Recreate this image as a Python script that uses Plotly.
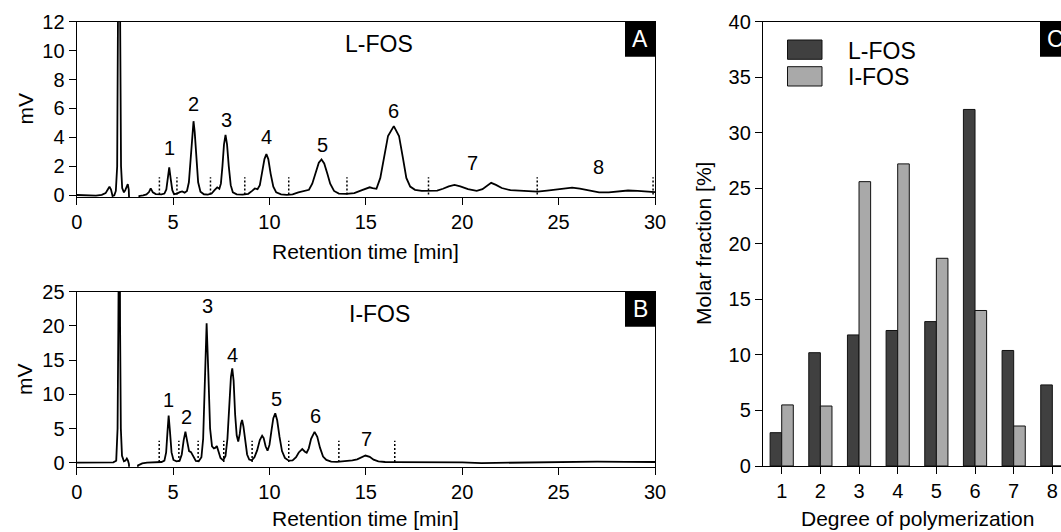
import plotly.graph_objects as go

W, H = 1061, 532
FONT = "Liberation Sans, Arial, sans-serif"

# ---------------- data ----------------
# Panel A: L-FOS chromatogram (retention time [min], signal [mV])
lfos_t = [0.0, 0.5, 1.0, 1.3, 1.5, 1.62, 1.7, 1.78, 1.86, 1.95, 2.03, 2.1, 2.14, 2.17, 2.23, 2.26, 2.3,
          2.36, 2.45, 2.52, 2.58, 2.65, 2.7, 2.74, 2.77, 3.2, 3.25, 3.45, 3.62, 3.75, 3.84, 3.95,
          4.1, 4.4, 4.55, 4.65, 4.72, 4.8, 4.88, 4.96, 5.05, 5.2, 5.35, 5.47, 5.6, 5.72,
          5.82, 5.92, 6.0, 6.06, 6.12, 6.2, 6.3, 6.42, 6.6, 6.8, 7.0, 7.15, 7.29, 7.4,
          7.48, 7.56, 7.64, 7.72, 7.8, 7.89, 7.99, 8.1, 8.3, 8.6, 8.9, 9.1, 9.24, 9.38,
          9.5, 9.62, 9.74, 9.84, 9.94, 10.06, 10.2, 10.35, 10.6, 10.9, 11.2, 11.5, 11.8,
          12.05, 12.22, 12.4, 12.56, 12.7, 12.84, 13.0, 13.15, 13.35, 13.6, 14.0, 14.4,
          14.8, 15.05, 15.2, 15.35, 15.55, 15.75, 15.95, 16.15, 16.45, 16.72, 16.92,
          17.1, 17.3, 17.55, 17.9, 18.3, 18.7, 19.0, 19.3, 19.6, 19.9, 20.3, 20.75, 21.05,
          21.3, 21.5, 21.75, 22.05, 22.5, 23.0, 23.5, 23.9, 24.4, 24.9, 25.3, 25.7, 26.1,
          26.6, 27.1, 27.6, 28.1, 28.6, 29.1, 29.6, 30.0]
lfos_mv = [0.02, 0.0, -0.02, 0.03, 0.15, 0.42, 0.6, 0.4, -0.05, 0.0, 0.3, 2.0, 12.0, 30.0, 30.0, 12.0, 2.0,
           0.5, 0.2, 0.35, 0.6, 0.77, 0.4, -0.3, -2.0, -2.0, -0.05, 0.0, 0.06, 0.22, 0.48, 0.2,
           0.08, 0.06, 0.12, 0.4, 1.1, 1.92, 1.1, 0.35, 0.08, 0.12, 0.22, 0.27, 0.18, 0.3,
           0.9, 2.6, 4.4, 5.12, 4.4, 2.6, 0.9, 0.25, 0.07, 0.05, 0.12, 0.35, 0.55, 0.45,
           0.8, 2.0, 3.5, 4.18, 3.5, 2.0, 0.7, 0.2, 0.06, 0.04, 0.1, 0.3, 0.47, 0.42,
           0.7, 1.6, 2.5, 2.84, 2.5, 1.5, 0.6, 0.2, 0.06, 0.03, 0.06, 0.2, 0.32,
           0.38, 0.8, 1.6, 2.25, 2.47, 2.2, 1.5, 0.8, 0.3, 0.12, 0.1, 0.15,
           0.35, 0.5, 0.55, 0.5, 0.45, 1.2, 2.6, 4.1, 4.78, 4.1, 2.6,
           1.2, 0.6, 0.38, 0.3, 0.3, 0.32, 0.45, 0.62, 0.72, 0.62, 0.42, 0.3, 0.42,
           0.7, 0.86, 0.72, 0.5, 0.35, 0.3, 0.28, 0.25, 0.32, 0.42, 0.5, 0.53, 0.46,
           0.32, 0.2, 0.2, 0.26, 0.33, 0.3, 0.24, 0.22]

# Panel B: I-FOS chromatogram
ifos_t = [0.0, 0.5, 1.0, 1.5, 1.9, 2.05, 2.12, 2.16, 2.19, 2.22, 2.25, 2.29, 2.35, 2.45, 2.53,
          2.6, 2.66, 2.71, 2.75, 3.12, 3.18, 3.4, 3.65, 4.0, 4.4, 4.55, 4.64, 4.71, 4.77,
          4.84, 4.92, 5.02, 5.18, 5.34, 5.45, 5.55, 5.64, 5.74, 5.83, 5.93, 6.04, 6.18,
          6.33, 6.47, 6.56, 6.65, 6.74, 6.83, 6.92, 7.02, 7.12, 7.2, 7.27, 7.36, 7.46,
          7.6, 7.72, 7.82, 7.92, 8.0, 8.07, 8.14, 8.22, 8.3, 8.38, 8.46, 8.52, 8.58,
          8.65, 8.74, 8.84, 8.95, 9.08, 9.22, 9.36, 9.5, 9.62, 9.7, 9.8, 9.9, 10.0,
          10.1, 10.2, 10.3, 10.4, 10.52, 10.65, 10.8, 11.0, 11.2, 11.38, 11.52, 11.7,
          11.84, 11.93, 12.04, 12.16, 12.34, 12.48, 12.62, 12.78, 12.95, 13.2, 13.5,
          13.8, 14.1, 14.3, 14.55, 14.8, 14.98, 15.2, 15.4, 15.65, 16.0, 16.5, 17.5,
          19.0, 20.0, 21.0, 22.0, 23.0, 25.0, 27.0, 28.5, 30.0]
ifos_mv = [0.0, 0.02, 0.0, 0.05, 0.05, 0.3, 5.0, 20.0, 50.0, 50.0, 20.0, 5.0, 1.0, 0.2, 0.3,
           0.6, 0.3, -0.2, -3.0, -3.0, -0.4, -0.1, 0.0, 0.05, 0.1, 0.3, 1.5, 4.5, 6.9,
           4.5, 1.5, 0.4, 0.2, 0.3, 1.2, 3.3, 4.55, 3.0, 1.7, 1.55, 0.9, 0.25,
           0.2, 0.8, 3.5, 13.0, 20.4, 13.0, 5.0, 2.4, 2.1, 2.2, 2.45, 1.6, 0.7,
           0.35, 1.0, 3.5, 8.5, 12.5, 13.8, 12.0, 7.0, 4.0, 3.1, 4.2, 5.7, 6.24,
           5.3, 3.0, 1.2, 0.45, 0.35, 0.8, 1.8, 3.3, 3.95, 3.6, 2.4, 1.75, 2.6,
           4.6, 6.5, 7.22, 6.2, 3.8, 1.7, 0.7, 0.3, 0.35, 0.8, 1.5, 2.0,
           1.6, 1.46, 2.1, 3.5, 4.5, 3.8, 2.2, 0.9, 0.4, 0.15, 0.12,
           0.18, 0.3, 0.35, 0.5, 0.8, 1.05, 0.85, 0.45, 0.2, 0.1, 0.08, 0.08,
           0.12, 0.05, -0.05, 0.0, 0.05, 0.1, 0.15, 0.12, 0.1]

# Integration boundaries (dotted markers)
lfos_bounds = [4.29, 5.2, 6.94, 8.72, 11.0, 14.02, 18.25, 23.89, 29.9]
ifos_bounds = [4.28, 5.3, 6.3, 7.63, 9.1, 11.0, 13.6, 16.5]

# Peak labels (DP) and their positions
lfos_labels = ["1", "2", "3", "4", "5", "6", "7", "8"]
lfos_lab_t = [4.79, 6.07, 7.75, 9.82, 12.73, 16.43, 20.55, 27.07]
lfos_lab_mv = [3.25, 6.3, 5.2, 4.0, 3.5, 5.8, 2.2, 1.95]
ifos_labels = ["1", "2", "3", "4", "5", "6", "7"]
ifos_lab_t = [4.75, 5.71, 6.78, 8.06, 10.34, 12.38, 15.01]
ifos_lab_mv = [9.2, 6.75, 22.9, 15.7, 9.3, 6.85, 3.45]

# Panel C: molar fraction by degree of polymerization
dp = [1, 2, 3, 4, 5, 6, 7, 8]
lfos_frac = [3.0, 10.2, 11.8, 12.2, 13.0, 32.1, 10.4, 7.3]
ifos_frac = [5.5, 5.4, 25.6, 27.2, 18.7, 14.0, 3.6, 0.0]

DARK = "#404040"
LIGHT = "#a9a9a9"

XC_RANGE = [0.516, 8.224]
YC_RANGE = [0, 40]


def px(x):
    return x / W


def py(y):
    return 1 - y / H


def ann(text, x, y, size=21, color="black", xanchor="center", yanchor="middle", angle=0,
        xref="paper", yref="paper"):
    return dict(text=text, x=x, y=y, xref=xref, yref=yref, showarrow=False, xanchor=xanchor,
                yanchor=yanchor, textangle=angle, font=dict(size=size, family=FONT, color=color))


fig = go.Figure()

fig.add_trace(go.Scatter(x=lfos_t, y=lfos_mv, mode="lines", line=dict(color="black", width=1.8),
                         xaxis="x", yaxis="y", showlegend=False, hoverinfo="skip"))
fig.add_trace(go.Scatter(x=ifos_t, y=ifos_mv, mode="lines", line=dict(color="black", width=1.8),
                         xaxis="x2", yaxis="y2", showlegend=False, hoverinfo="skip"))
fig.add_trace(go.Bar(x=dp, y=lfos_frac, name="L-FOS", marker=dict(color=DARK, line=dict(color="#111", width=1)),
                     xaxis="x3", yaxis="y3", showlegend=False))
fig.add_trace(go.Bar(x=dp, y=ifos_frac, name="I-FOS", marker=dict(color=LIGHT, line=dict(color="#111", width=1)),
                     xaxis="x3", yaxis="y3", showlegend=False))

shapes = []
annotations = []

for t in lfos_bounds:
    shapes.append(dict(type="line", xref="x", yref="y", x0=t, x1=t, y0=0.05, y1=1.25,
                       line=dict(color="black", width=1.5, dash="2px,2px")))
for t in ifos_bounds:
    shapes.append(dict(type="line", xref="x2", yref="y2", x0=t, x1=t, y0=0.1, y1=3.2,
                       line=dict(color="black", width=1.5, dash="2px,2px")))

for lab, t, v in zip(lfos_labels, lfos_lab_t, lfos_lab_mv):
    annotations.append(ann(lab, t, v, size=20, xref="x", yref="y"))
for lab, t, v in zip(ifos_labels, ifos_lab_t, ifos_lab_mv):
    annotations.append(ann(lab, t, v, size=20, xref="x2", yref="y2"))

annotations.append(ann("L-FOS", px(379), py(44), size=23))
annotations.append(ann("I-FOS", px(379), py(313.5), size=23))

# Panel letter boxes
for letter, x0, y0 in [("A", 625, 21.7), ("B", 625, 291.7)]:
    shapes.append(dict(type="rect", xref="paper", yref="paper", x0=px(x0), x1=px(x0 + 30),
                       y0=py(y0 + 35), y1=py(y0), fillcolor="black", line=dict(width=0)))
    annotations.append(ann(letter, px(x0 + 15), py(y0 + 17.5), size=23, color="white"))

# Panel C letter box runs past the right edge of the picture (as in the reference)
xc_scale = (XC_RANGE[1] - XC_RANGE[0]) / (W - 763)
yc_scale = (YC_RANGE[1] - YC_RANGE[0]) / (466 - 21.7)
shapes.append(dict(type="rect", xref="paper", yref="paper", x0=px(1040), x1=px(1070),
                   y0=py(56.7), y1=py(21.7), fillcolor="black", line=dict(width=0)))
annotations.append(ann("C", XC_RANGE[0] + (1055 - 763) * xc_scale, YC_RANGE[1] - (39.2 - 21.7) * yc_scale,
                       size=23, color="white", xref="x3", yref="y3"))

# Legend for panel C
for name, col, y0 in [("L-FOS", DARK, 40), ("I-FOS", LIGHT, 66.7)]:
    shapes.append(dict(type="rect", xref="paper", yref="paper", x0=px(787.5), x1=px(822),
                       y0=py(y0 + 19.3), y1=py(y0), fillcolor=col, line=dict(color="#111", width=1)))
    annotations.append(ann(name, px(846), py(y0 + 10.5), size=23, xanchor="left"))

# Axis titles
annotations += [
    ann("mV", px(24.5), py(109), angle=-90),
    ann("mV", px(24.5), py(379.5), angle=-90),
    ann("Retention time [min]", px(365), py(252)),
    ann("Retention time [min]", px(365), 0.0, yanchor="bottom"),
    ann("Degree of polymerization", px(917), 0.0, yanchor="bottom"),
    ann("Molar fraction [%]", px(703), py(244), angle=-90),
]

axis_common = dict(showline=True, linecolor="black", linewidth=1.3, ticks="outside", ticklen=7,
                   tickwidth=1.3, tickcolor="black", showgrid=False, zeroline=False, automargin=False,
                   tickfont=dict(size=20, family=FONT, color="black"))

fig.update_layout(
    width=W, height=H,
    margin=dict(l=0, r=0, t=0, b=0, pad=0),
    paper_bgcolor="white", plot_bgcolor="white",
    barmode="group", bargap=0.4, bargroupgap=0.0,
    showlegend=False,
    xaxis=dict(domain=[px(76.7), px(655)], range=[0, 30], tickvals=[0, 5, 10, 15, 20, 25, 30],
               anchor="y", mirror=True, **axis_common),
    yaxis=dict(domain=[py(197), py(21.7)], range=[-0.12, 12], tickvals=[0, 2, 4, 6, 8, 10, 12],
               anchor="x", mirror=True, **axis_common),
    xaxis2=dict(domain=[px(76.7), px(655)], range=[0, 30], tickvals=[0, 5, 10, 15, 20, 25, 30],
                anchor="y2", mirror=True, **axis_common),
    yaxis2=dict(domain=[py(466.7), py(291.7)], range=[-0.585, 25], tickvals=[0, 5, 10, 15, 20, 25],
                anchor="x2", mirror=True, **axis_common),
    xaxis3=dict(domain=[px(763), 1.0], range=XC_RANGE, tickvals=dp, ticktext=[str(d) for d in dp],
                anchor="y3", mirror=True, **axis_common),
    yaxis3=dict(domain=[py(466), py(21.7)], range=YC_RANGE, tickvals=[0, 5, 10, 15, 20, 25, 30, 35, 40],
                anchor="x3", mirror=False, **axis_common),
    shapes=shapes,
    annotations=annotations,
)

fig.write_html("out.html")
